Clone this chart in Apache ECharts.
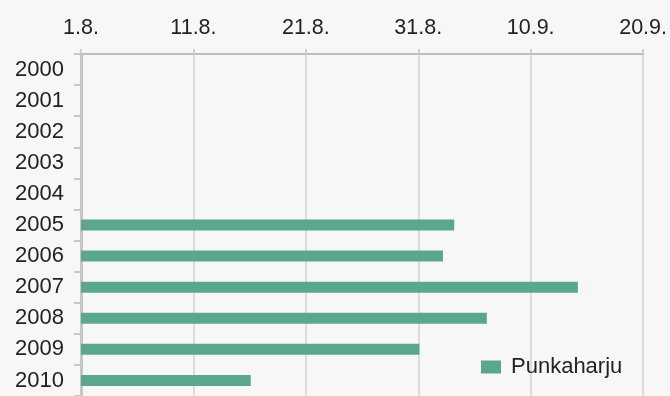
<!DOCTYPE html>
<html>
<head>
<meta charset="utf-8">
<script src="https://cdn.jsdelivr.net/npm/echarts@6/dist/echarts.min.js"></script>
<style>
html,body{margin:0;padding:0;background:#f7f7f7;}
#c{width:670px;height:396px;}
</style>
</head>
<body>
<div id="c"></div>
<script>
// Years (categories), top to bottom
var years = ['2000','2001','2002','2003','2004','2005','2006','2007','2008','2009','2010'];
// Days after 1 August (null = no value)
var punkaharju = [null, null, null, null, null, 33.2, 32.2, 44.2, 36.1, 30.1, 15.1];
// Tick labels for 0,10,20,30,40,50 days after 1.8.
var tickLabels = ['1.8.', '11.8.', '21.8.', '31.8.', '10.9.', '20.9.'];
var seriesName = 'Punkaharju';

var chart = echarts.init(document.getElementById('c'), null, {renderer: 'canvas'});
var font = 'Liberation Sans, Arial, sans-serif';
chart.setOption({
  backgroundColor: '#f7f7f7',
  animation: false,
  grid: {left: 81, right: 24, top: 54, bottom: -2.5, containLabel: false},
  legend: {
    data: [seriesName],
    left: 476, top: 351,
    itemWidth: 20, itemHeight: 13,
    icon: 'rect',
    textStyle: {fontFamily: font, fontSize: 22, color: '#222222', padding: [0,0,0,5]}
  },
  xAxis: {
    type: 'value', position: 'top',
    min: 0, max: 50, interval: 10,
    axisLine: {show: true, lineStyle: {color: '#bdbdbd', width: 2}},
    axisTick: {show: true, length: 5, lineStyle: {color: '#cfcfcf', width: 2}},
    splitLine: {show: true, lineStyle: {color: '#dcdcdc', width: 2}},
    axisLabel: {
      fontFamily: font, fontSize: 21.5, color: '#222222', margin: 15,
      formatter: function (v) { return tickLabels[Math.round(v / 10)]; }
    }
  },
  yAxis: [{
    type: 'category', data: years, inverse: true,
    axisLine: {show: true, onZero: false, lineStyle: {color: '#8a8a8a', width: 2}},
    axisTick: {show: true, length: 7, lineStyle: {color: '#c8c8c8', width: 2}},
    axisLabel: {fontFamily: font, fontSize: 22, color: '#222222', margin: 17}
  }, {
    type: 'category', data: years, inverse: true, position: 'right',
    axisLine: {show: true, lineStyle: {color: '#c6c6c6', width: 3}},
    axisTick: {show: false}, axisLabel: {show: false}
  }],
  series: [{
    name: seriesName, type: 'bar', data: punkaharju,
    barWidth: 11,
    itemStyle: {color: '#5ba78e'}
  }]
});
</script>
</body>
</html>
